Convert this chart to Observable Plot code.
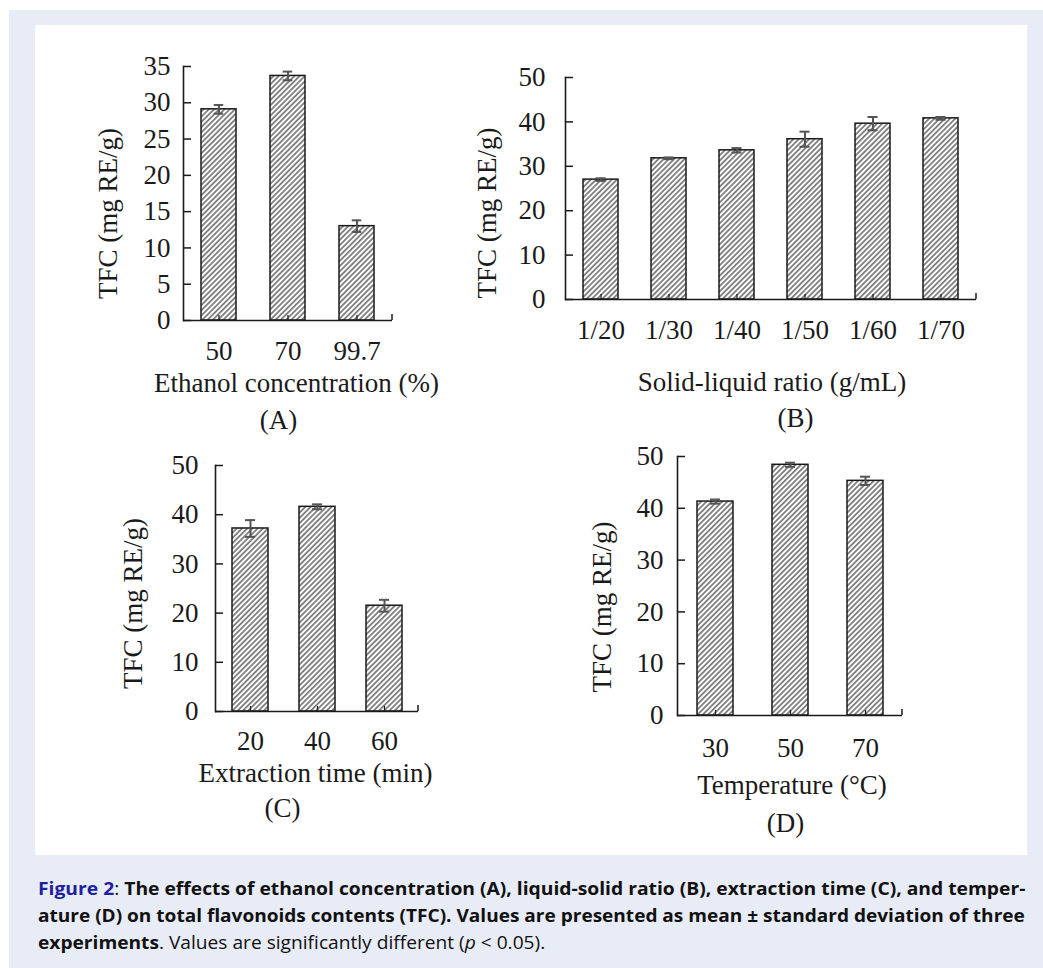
<!DOCTYPE html>
<html><head><meta charset="utf-8">
<script src="https://cdn.jsdelivr.net/npm/d3@7"></script>
<script src="https://cdn.jsdelivr.net/npm/@observablehq/plot@0.6"></script>
<style>
html,body{margin:0;padding:0}
body{background:#fff;width:1043px;height:968px;overflow:hidden;position:relative}
#outer{position:absolute;left:9px;top:10px;width:1034px;height:958px;background:#e8ecf6}
#panel{position:absolute;left:35px;top:25px;width:992px;height:830px;background:#fff}
.chart{position:absolute}
#caption{position:absolute;left:38px;top:875px;font-family:"Open Sans",sans-serif;font-size:18px;line-height:27px;color:#111}
.line{white-space:nowrap;transform-origin:0 0;width:max-content}
.fig{color:#1f1fa0}
</style></head>
<body>
<div id="outer"></div>
<div id="panel"></div>
<div id="charts"></div>
<div id="caption">
<div class="line"><b><span class="fig">Figure 2</span></b>: <b>The effects of ethanol concentration (A), liquid-solid ratio (B), extraction time (C), and temper-</b></div>
<div class="line"><b>ature (D) on total flavonoids contents (TFC). Values are presented as mean ± standard deviation of three</b></div>
<div class="line"><b>experiments</b>. Values are significantly different (<i>p</i> &lt; 0.05).</div>
</div>
<script>
// ---- data ----
const catsA = ["50", "70", "99.7"];
const valsA = [29.1, 33.7, 13.0];
const errA  = [0.6, 0.6, 0.8];
const ticksA = [0, 5, 10, 15, 20, 25, 30, 35];

const catsB = ["1/20", "1/30", "1/40", "1/50", "1/60", "1/70"];
const valsB = [27.0, 31.8, 33.6, 36.1, 39.6, 40.8];
const errB  = [0.3, 0.2, 0.5, 1.7, 1.5, 0.3];
const ticksB = [0, 10, 20, 30, 40, 50];

const catsC = ["20", "40", "60"];
const valsC = [37.2, 41.6, 21.5];
const errC  = [1.7, 0.5, 1.2];
const ticksC = [0, 10, 20, 30, 40, 50];

const catsD = ["30", "50", "70"];
const valsD = [41.3, 48.4, 45.3];
const errD  = [0.4, 0.4, 0.8];
const ticksD = [0, 10, 20, 30, 40, 50];

const yTitle = "TFC (mg RE/g)";
const xTitles = ["Ethanol concentration (%)", "Solid-liquid ratio (g/mL)", "Extraction time (min)", "Temperature (°C)"];
const panelTags = ["(A)", "(B)", "(C)", "(D)"];

// ---- layout (page coordinates of each plot frame) ----
const panels = [
  {id:"A", cats:catsA, vals:valsA, errs:errA, ticks:ticksA, left:40, top:40, width:400, height:400,
   fx0:183, fx1:392, fy0:66, fy1:320, pad:0.49, gap:13,
   yt:{dx:-75, dy:20}, xt:{dx:8.5, dy:63}, tag:{dx:-9.5, dy:100}, xlab:33},
  {id:"B", cats:catsB, vals:valsB, errs:errB, ticks:ticksB, left:440, top:40, width:560, height:400,
   fx0:565, fx1:976, fy0:77, fy1:299, pad:0.49, gap:20,
   yt:{dx:-78, dy:24.5}, xt:{dx:1, dy:83}, tag:{dx:24.5, dy:119}, xlab:33},
  {id:"C", cats:catsC, vals:valsC, errs:errC, ticks:ticksC, left:40, top:440, width:420, height:410,
   fx0:215, fx1:418, fy0:465, fy1:711, pad:0.47, gap:17,
   yt:{dx:-82, dy:15}, xt:{dx:-1.5, dy:62}, tag:{dx:-34.5, dy:97}, xlab:32},
  {id:"D", cats:catsD, vals:valsD, errs:errD, ticks:ticksD, left:540, top:430, width:420, height:420,
   fx0:677, fx1:902, fy0:456, fy1:715, pad:0.52, gap:14,
   yt:{dx:-75, dy:21}, xt:{dx:2, dy:70}, tag:{dx:-4.5, dy:108}, xlab:35}
];

const INK = "#1a1a1a";
const FS = 27;
const host = document.getElementById("charts");

panels.forEach((p, idx) => {
  const data = p.cats.map((c, i) => ({c, v: p.vals[i], e: p.errs[i]}));
  const mL = p.fx0 - p.left, mR = p.left + p.width - p.fx1;
  const mT = p.fy0 - p.top, mB = p.top + p.height - p.fy1;
  const fw = p.fx1 - p.fx0, fh = p.fy1 - p.fy0;
  const bw = fw / p.cats.length * (1 - p.pad);
  const capInset = (bw - 10) / 2;
  const pid = "hatch" + p.id;
  const yMax = p.ticks[p.ticks.length - 1];

  const svg = Plot.plot({
    width: p.width, height: p.height,
    marginLeft: mL, marginRight: mR, marginTop: mT, marginBottom: mB,
    style: {fontFamily: "'Liberation Serif', serif", fontSize: FS + "px", color: INK, background: "transparent", overflow: "visible"},
    x: {type: "band", domain: p.cats, paddingInner: p.pad, paddingOuter: p.pad / 2},
    y: {domain: [0, yMax]},
    marks: [
      Plot.barY(data, {x: "c", y: "v", fill: `url(#${pid})`, stroke: INK, strokeWidth: 1.5}),
      Plot.ruleX(data, {x: "c", y1: d => d.v - d.e, y2: d => d.v + d.e, stroke: "#555", strokeWidth: 2}),
      Plot.tickY(data, {x: "c", y: d => d.v + d.e, stroke: "#555", strokeWidth: 2, inset: capInset}),
      Plot.tickY(data, {x: "c", y: d => d.v - d.e, stroke: "#555", strokeWidth: 2, inset: capInset}),
      Plot.tickX(p.cats, {x: d => d, insetTop: fh - 5, stroke: INK, strokeWidth: 1.2}),
      Plot.ruleY([0], {stroke: INK, strokeWidth: 1.5}),
      Plot.frame({anchor: "left", stroke: INK, strokeWidth: 1.6}),
      Plot.tickY(p.ticks, {y: d => d, insetRight: fw - 8, stroke: INK, strokeWidth: 1.5}),
      Plot.axisY({ticks: p.ticks, tickSize: 0, tickPadding: p.gap, label: null, fontSize: FS, fill: INK}),
      Plot.axisX({tickSize: 0, tickPadding: p.xlab - 0.46 * FS, label: null, fontSize: FS, fill: INK}),
      Plot.text([yTitle], {text: d => d, frameAnchor: "left", textAnchor: "middle", lineAnchor: "middle", rotate: -90, dx: p.yt.dx, dy: p.yt.dy, fontSize: FS, fill: INK}),
      Plot.text([xTitles[idx]], {text: d => d, frameAnchor: "bottom", textAnchor: "middle", lineAnchor: "middle", dx: p.xt.dx, dy: p.xt.dy, fontSize: FS, fill: INK}),
      Plot.text([panelTags[idx]], {text: d => d, frameAnchor: "bottom", textAnchor: "middle", lineAnchor: "middle", dx: p.tag.dx, dy: p.tag.dy, fontSize: FS, fill: INK})
    ]
  });

  const NS = "http://www.w3.org/2000/svg";
  const defs = document.createElementNS(NS, "defs");
  defs.innerHTML = `<pattern id="${pid}" patternUnits="userSpaceOnUse" width="3.7" height="3.7" patternTransform="rotate(45)">
      <rect width="3.7" height="3.7" fill="#ffffff"/>
      <line x1="1.85" y1="-1" x2="1.85" y2="4.7" stroke="#222" stroke-width="1.05"/></pattern>`;
  svg.insertBefore(defs, svg.firstChild);

  // small end tick at right end of the category axis (from the plot's own scales)
  const xr = svg.scale("x").range, yr = svg.scale("y").range;
  const end = document.createElementNS(NS, "line");
  end.setAttribute("x1", xr[1]); end.setAttribute("x2", xr[1]);
  end.setAttribute("y1", yr[0]); end.setAttribute("y2", yr[0] - 6);
  end.setAttribute("stroke", INK); end.setAttribute("stroke-width", 1.5);
  svg.appendChild(end);

  svg.classList.add("chart");
  svg.style.left = p.left + "px";
  svg.style.top = p.top + "px";
  host.appendChild(svg);
});

// fit caption lines to the justified width of the original
const lines = document.querySelectorAll("#caption .line");
const target = 987;
const s1 = target / lines[0].scrollWidth, s2 = target / lines[1].scrollWidth;
lines[0].style.transform = `scaleX(${s1})`;
lines[1].style.transform = `scaleX(${s2})`;
lines[2].style.transform = `scaleX(${(s1 + s2) / 2})`;
</script>
</body></html>
